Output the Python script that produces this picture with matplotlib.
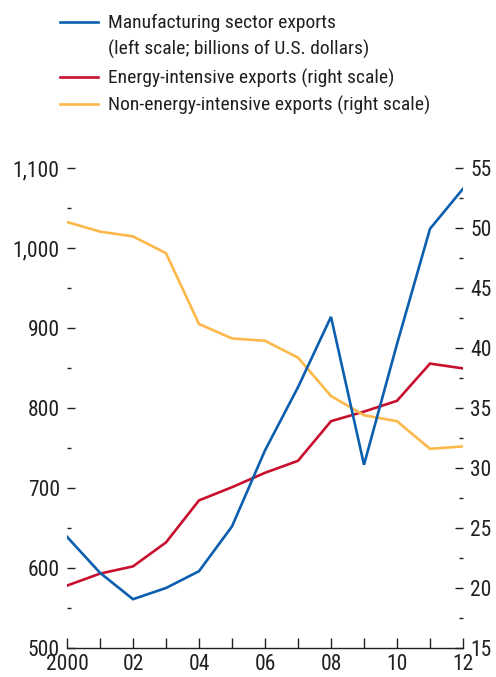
import matplotlib
matplotlib.use("Agg")
import matplotlib.pyplot as plt
from matplotlib.lines import Line2D
from matplotlib.ticker import MultipleLocator, FixedLocator
import matplotlib.transforms as mtransforms

plt.rcParams['font.family'] = ['Roboto Condensed', 'Liberation Sans', 'DejaVu Sans']

years = list(range(2000, 2013))
manufacturing = [639, 594, 561, 575, 596, 652, 747, 826, 914, 729, 880, 1024, 1074]
energy_intensive = [20.2, 21.2, 21.8, 23.8, 27.3, 28.4, 29.6, 30.6, 33.9, 34.7, 35.6, 38.7, 38.3]
non_energy_intensive = [50.5, 49.7, 49.3, 47.9, 42.0, 40.8, 40.6, 39.2, 36.0, 34.4, 33.9, 31.6, 31.8]
xtick_labels = ["2000", "02", "04", "06", "08", "10", "12"]
left_ticks = [500, 600, 700, 800, 900, 1000, 1100]
left_tick_labels = ["500", "600", "700", "800", "900", "1,000", "1,100"]
legend_lines = [["Manufacturing sector exports", "(left scale; billions of U.S. dollars)"],
                ["Energy-intensive exports (right scale)"],
                ["Non-energy-intensive exports (right scale)"]]

BLUE = "#0b5fae"
RED = "#c8102e"
YELLOW = "#fdb84c"
TXT = "#231f20"

W, H = 496, 677
fig = plt.figure(figsize=(W / 100, H / 100), dpi=100)
ax = fig.add_axes([67 / W, 29 / H, 396 / W, 480 / H])
ax2 = ax.twinx()

lw = 1.9
ax.plot(years, manufacturing, color=BLUE, lw=lw, zorder=5, solid_joinstyle='miter')
ax2.plot(years, energy_intensive, color=RED, lw=lw, solid_joinstyle='miter')
ax2.plot(years, non_energy_intensive, color=YELLOW, lw=lw, solid_joinstyle='miter')
ax.set_zorder(ax2.get_zorder() + 1)
ax.patch.set_visible(False)

ax.set_xlim(2000, 2012)
ax.set_ylim(500, 1100)
ax2.set_ylim(15, 55)

for a in (ax, ax2):
    for s in ("top", "left", "right"):
        a.spines[s].set_visible(False)
ax2.spines["bottom"].set_visible(False)
ax.spines["bottom"].set_color(TXT)
ax.spines["bottom"].set_linewidth(1.0)

ax.xaxis.set_major_locator(FixedLocator(years[::2]))
ax.xaxis.set_minor_locator(FixedLocator(years[1::2]))
ax.set_xticklabels(xtick_labels)
ax.tick_params(axis='x', which='both', direction='in', length=7, width=1.0, color=TXT,
               labelsize=15.5, labelcolor=TXT, pad=4.5)

ax.set_yticks(left_ticks)
ax.set_yticklabels(left_tick_labels)
ax.yaxis.set_minor_locator(MultipleLocator(50))
ax.tick_params(axis='y', which='major', direction='in', length=6, width=1.0, color=TXT,
               labelsize=15.5, labelcolor=TXT, pad=-2)
ax.tick_params(axis='y', which='minor', direction='in', length=3, width=1.0, color=TXT, pad=-2)

ax2.yaxis.set_major_locator(MultipleLocator(5))
ax2.yaxis.set_minor_locator(MultipleLocator(2.5))
ax2.tick_params(axis='y', which='major', direction='in', length=6, width=1.0, color=TXT,
                labelsize=15.5, labelcolor=TXT, pad=-2)
ax2.tick_params(axis='y', which='minor', direction='in', length=3, width=1.0, color=TXT, pad=-2)

off_left = mtransforms.ScaledTranslation(-10 / 100, 0, fig.dpi_scale_trans)
for lab in ax.get_yticklabels():
    lab.set_transform(lab.get_transform() + off_left)
off_right = mtransforms.ScaledTranslation(10 / 100, 0, fig.dpi_scale_trans)
for lab in ax2.get_yticklabels():
    lab.set_transform(lab.get_transform() + off_right)

# Legend (manual, top-left)
colors = [BLUE, RED, YELLOW]
handle_y = [22, 77, 104]
baselines = [[28, 55], [83.5], [110.5]]
for c, hy, bls, lines in zip(colors, handle_y, baselines, legend_lines):
    fig.add_artist(Line2D([60 / W, 98 / W], [1 - hy / H, 1 - hy / H], color=c, lw=lw,
                          transform=fig.transFigure))
    for bl, line in zip(bls, lines):
        fig.text(108 / W, 1 - bl / H, line, ha='left', va='baseline', fontsize=14,
                 color=TXT)

fig.savefig("out.png", dpi=100)
